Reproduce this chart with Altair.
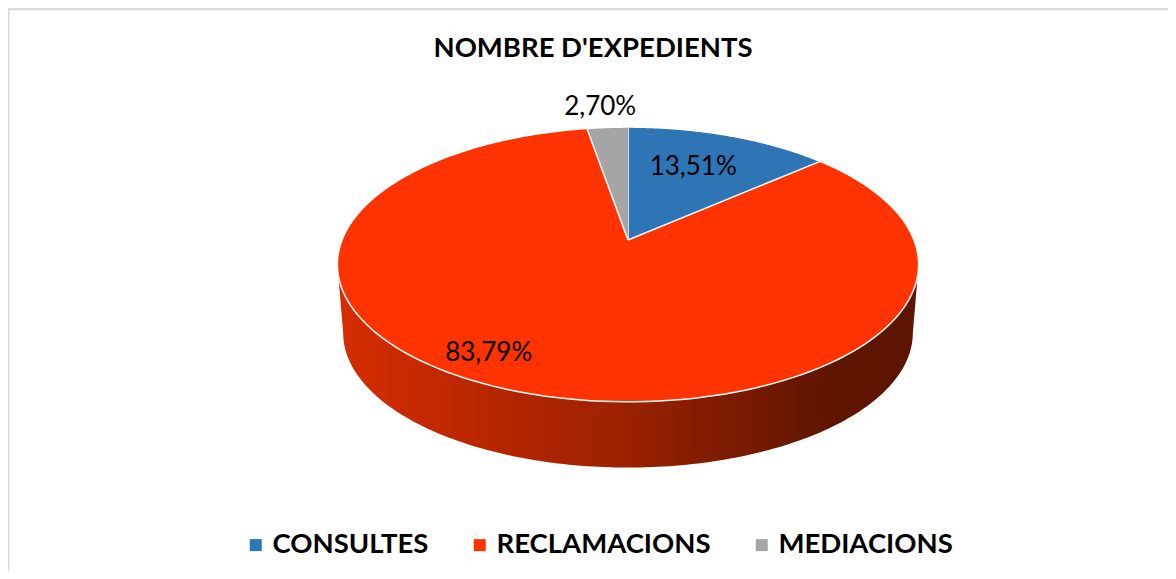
import altair as alt
import pandas as pd

# ---- data ----
categories = ["CONSULTES", "RECLAMACIONS", "MEDIACIONS"]
values = [13.51, 83.79, 2.70]
colors = ["#2E75B6", "#FF3300", "#A5A5A5"]
title_text = "NOMBRE D'EXPEDIENTS"

# ---- layout (positions / sizes, not data) ----
W, H = 1160, 563
CX, CY = 620, 232          # pie centre (view px)
RA, RB = 286, 133          # horizontal / vertical radii
K = 0.178                  # perspective factor
DEPTH, BOT_SCALE = 69, 0.98
N = 160                    # arc resolution
M = 160
label_rho = [0.66, 0.85, 1.22]
label_shift = [-1.8, 10.4, -0.7]   # degrees

df = pd.DataFrame({"cat": categories, "val": values, "idx": list(range(len(categories))),
                   "rho": label_rho, "shift": label_shift})

xs = alt.Scale(domain=[0, W], nice=False, zero=False)
ys = alt.Scale(domain=[0, H], nice=False, zero=False, reverse=True)

# ---- side of the 3D pie ----
tr = f"asin({K})"
tl = f"(PI - asin({K}))"
side = alt.Chart(alt.sequence(0, 2 * M + 2, as_="i")).transform_calculate(
    top=f"datum.i <= {M} ? 1 : 0",
    t=f"datum.i <= {M} ? {tr} + ({tl} - {tr}) * datum.i / {M} : {tl} - ({tl} - {tr}) * (datum.i - {M + 1}) / {M}",
    u="cos(datum.t)",
    v="sin(datum.t)",
    s=f"1 / (1 - {K} * datum.v)",
    f=f"datum.top == 1 ? 1 : {BOT_SCALE}",
    d=f"datum.top == 1 ? 0 : {DEPTH}",
    px=f"{CX} + datum.f * {RA} * datum.u * datum.s",
    py=f"{CY} + datum.d + datum.f * {RB} * datum.v * datum.s",
).mark_line(
    filled=True,
    fill=alt.Gradient(
        gradient="linear", x1=0, x2=1, y1=0, y2=0,
        stops=[alt.GradientStop(color="#D62C00", offset=0),
               alt.GradientStop(color="#9A2100", offset=0.5),
               alt.GradientStop(color="#5E1500", offset=0.85),
               alt.GradientStop(color="#5C1500", offset=1)]),
    strokeOpacity=0,
).encode(
    x=alt.X("px:Q", scale=xs, axis=None),
    y=alt.Y("py:Q", scale=ys, axis=None),
    order=alt.Order("i:Q"),
)

# ---- cumulative angles from values ----
base = alt.Chart(df).transform_joinaggregate(
    total="sum(val)"
).transform_window(
    cum="sum(val)", sort=[alt.SortField("idx")], frame=[None, 0]
).transform_calculate(
    f0="(datum.cum - datum.val) / datum.total",
    f1="datum.cum / datum.total",
)

slices = base.transform_calculate(
    step=f"sequence(0, {N + 2})"
).transform_flatten(["step"]).transform_calculate(
    th=f"2 * PI * (datum.f0 + (datum.f1 - datum.f0) * max(datum.step - 1, 0) / {N})",
    u="sin(datum.th)",
    v="-cos(datum.th)",
    s=f"1 / (1 - {K} * datum.v)",
    px=f"datum.step == 0 ? {CX} : {CX} + {RA} * datum.u * datum.s",
    py=f"datum.step == 0 ? {CY} : {CY} + {RB} * datum.v * datum.s",
).mark_line(
    filled=True, stroke="white", strokeWidth=1.5, strokeJoin="round"
).encode(
    x=alt.X("px:Q", scale=xs, axis=None),
    y=alt.Y("py:Q", scale=ys, axis=None),
    color=alt.Color(
        "cat:N",
        scale=alt.Scale(domain=categories, range=colors),
        sort=categories,
        legend=alt.Legend(
            orient="none", legendX=234, legendY=523, direction="horizontal",
            title=None, symbolType="square", symbolSize=144, symbolStrokeWidth=0,
            labelFont="Lato", labelFontWeight="bold", labelFontSize=27.5,
            labelColor="black", labelOffset=3, columnPadding=37,
            labelLimit=0, padding=0,
        ),
    ),
    order=alt.Order("step:Q"),
)

labels = base.transform_calculate(
    th="2 * PI * (datum.f0 + datum.f1) / 2 + datum.shift * PI / 180",
    u="datum.rho * sin(datum.th)",
    v="-datum.rho * cos(datum.th)",
    s=f"1 / (1 - {K} * datum.v)",
    px=f"{CX} + {RA} * datum.u * datum.s",
    py=f"{CY} + {RB} * datum.v * datum.s",
    lab="replace(format(datum.val, '.2f'), '.', ',') + '%'",
).mark_text(
    font="Lato", fontSize=26, color="black", align="center", baseline="middle"
).encode(
    x=alt.X("px:Q", scale=xs, axis=None),
    y=alt.Y("py:Q", scale=ys, axis=None),
    text="lab:N",
)

title = alt.Chart(pd.DataFrame({"t": [title_text]})).mark_text(
    font="Lato", fontSize=27.5, fontWeight="bold", color="black",
    align="center", baseline="middle"
).encode(
    x=alt.value(585), y=alt.value(41), text="t:N"
)

frame_df = pd.DataFrame({"k": [0]})
frame_top = alt.Chart(frame_df).mark_rule(color="#D9D9D9", strokeWidth=1.5).encode(
    x=alt.value(0), x2=alt.value(W), y=alt.value(1.5)
)
frame_left = alt.Chart(frame_df).mark_rule(color="#D9D9D9", strokeWidth=1.5).encode(
    x=alt.value(0.75), y=alt.value(1), y2=alt.value(H)
)

chart = alt.layer(frame_top, frame_left, side, slices, labels, title).properties(
    width=W, height=H,
    autosize=alt.AutoSizeParams(type="none"),
    padding=0,
).configure_view(
    strokeWidth=0
).configure(background="white")

chart.save("out.html", embed_options={"renderer": "svg", "actions": False})
